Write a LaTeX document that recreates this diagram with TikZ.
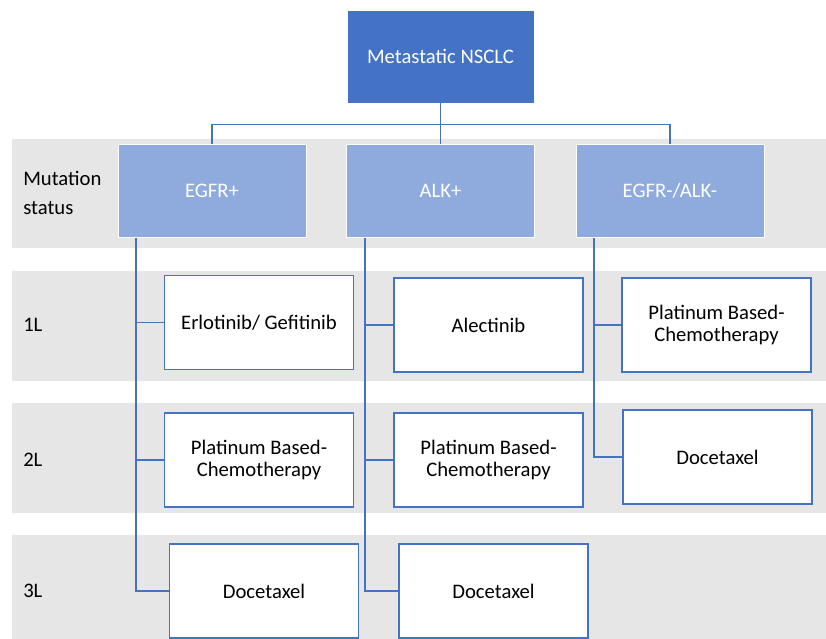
\documentclass[tikz,border=0pt]{standalone}
\usepackage{fontspec}
\setmainfont{Carlito}
\usepackage{tikz}
\usetikzlibrary{positioning,calc}
\definecolor{RootBlue}{RGB}{68,114,196}
\definecolor{StatusBlue}{RGB}{143,170,220}
\definecolor{BandGray}{RGB}{231,230,230}
\definecolor{LineBlue}{RGB}{68,114,196}

\begin{document}
\begin{tikzpicture}[
  x=0.75pt, y=-0.75pt,
  font=\fontsize{15.5pt}{17pt}\selectfont,
  root/.style={
    rectangle, draw=white, thin, fill=RootBlue, text=white, align=center,
    minimum width=140pt, minimum height=70pt, inner sep=2pt
  },
  status/.style={
    rectangle, draw=white, thin, fill=StatusBlue, text=white, align=center,
    minimum width=141pt, minimum height=70pt, inner sep=2pt
  },
  therapy/.style={
    rectangle, draw=LineBlue, line width=1pt, fill=white, align=center,
    minimum width=141.75pt, minimum height=70.5pt, inner sep=2pt
  },
  rowlabel/.style={anchor=west, align=left, inner sep=0pt},
  band/.style={fill=BandGray},
  link/.style={draw=LineBlue, line width=1.1pt}
]
\useasboundingbox (0,0) rectangle (826,639);

% grey bands for the rows
\fill[band] (12,139) rectangle (826,248);
\fill[band] (12,271) rectangle (826,381);
\fill[band] (12,403) rectangle (826,513);
\fill[band] (12,535) rectangle (826,639);

% row labels
\node[rowlabel] (lblstatus) at (23,193) {Mutation\\[5pt]status};
\node[rowlabel] (lbl1) at (23,325) {1L};
\node[rowlabel] (lbl2) at (23,460) {2L};
\node[rowlabel] (lbl3) at (23,591) {3L};

% root and mutation status
\node[root] (root) at (440.5,56.5) {Metastatic NSCLC};
\node[status] (egfr) at (212,190.5) {EGFR+};
\node[status] (alk) at (440.5,190.5) {ALK+};
\node[status] (neg) at (670,190.5) {EGFR-/ALK-};

% lines of therapy
\node[therapy] (erlo) at (259,322.5) {Erlotinib/ Gefitinib};
\node[therapy] (alec) at (488.5,325) {Alectinib};
\node[therapy] (platneg) at (716.5,325) {Platinum Based-\\Chemotherapy};
\node[therapy] (plategfr) at (259,460) {Platinum Based-\\Chemotherapy};
\node[therapy] (platalk) at (488.5,460) {Platinum Based-\\Chemotherapy};
\node[therapy] (docneg) at (717.5,457) {Docetaxel};
\node[therapy] (docegfr) at (264,591) {Docetaxel};
\node[therapy] (docalk) at (493.5,591) {Docetaxel};

% trunks below the status boxes
\coordinate (egfrtrunk) at (136,238);
\coordinate (alktrunk) at (365,238);
\coordinate (negtrunk) at (594,238);

% --- connectors ---
\draw[link] (root.south) -- (alk.north);
\draw[link] (egfr.north) -- ++(0,-19) -| (neg.north);

\draw[link] (egfrtrunk) |- (erlo.west);
\draw[link] (egfrtrunk) |- (plategfr.west);
\draw[link] (egfrtrunk) |- (docegfr.west);

\draw[link] (alktrunk) |- (alec.west);
\draw[link] (alktrunk) |- (platalk.west);
\draw[link] (alktrunk) |- (docalk.west);

\draw[link] (negtrunk) |- (platneg.west);
\draw[link] (negtrunk) |- (docneg.west);

\end{tikzpicture}
\end{document}
